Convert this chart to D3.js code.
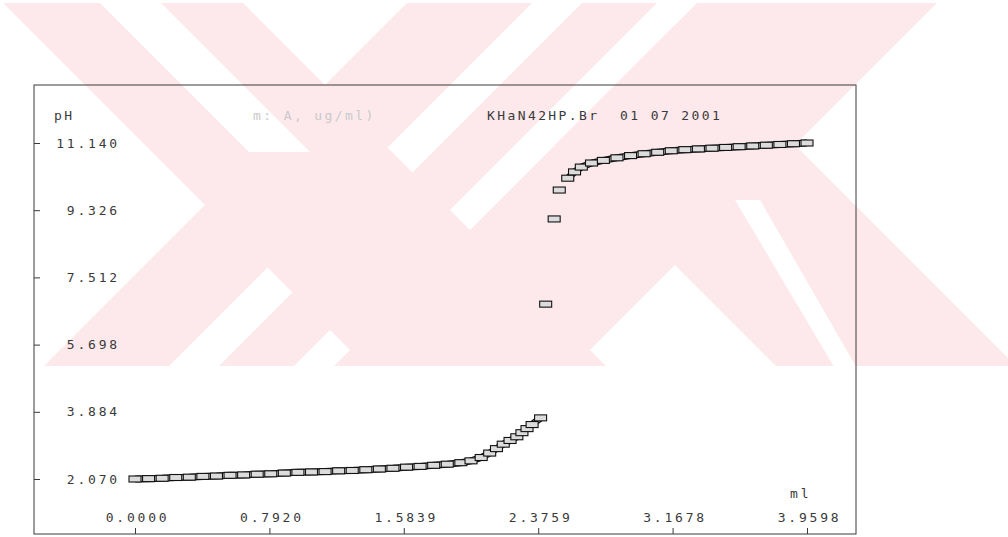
<!DOCTYPE html>
<html>
<head>
<meta charset="utf-8">
<script src="https://cdn.jsdelivr.net/npm/d3@7"></script>
<style>
  html, body { margin: 0; padding: 0; background: #fff; }
  svg { display: block; }
</style>
</head>
<body>
<svg id="chart" width="1008" height="537"></svg>
<script>
// Potentiometric titration curve: pH against added titrant volume (ml)

// acidic branch, before the equivalence point
const lowVolume = [
  0.00, 0.08, 0.16, 0.24, 0.32, 0.40, 0.48, 0.56, 0.64, 0.72,
  0.80, 0.88, 0.96, 1.04, 1.12, 1.20, 1.28, 1.36, 1.44, 1.52,
  1.60, 1.68, 1.76, 1.84, 1.92, 1.98, 2.04, 2.09, 2.13, 2.17,
  2.21, 2.25, 2.28, 2.31, 2.34, 2.39
];
const lowPH = [
  2.07, 2.08, 2.09, 2.11, 2.12, 2.14, 2.15, 2.17, 2.18, 2.20,
  2.21, 2.23, 2.25, 2.26, 2.27, 2.29, 2.30, 2.32, 2.34, 2.36,
  2.39, 2.41, 2.44, 2.47, 2.51, 2.56, 2.65, 2.77, 2.89, 3.01,
  3.11, 3.21, 3.32, 3.43, 3.54, 3.72
];
// readings across the jump
const jumpVolume = [2.42, 2.47, 2.50];
const jumpPH = [6.79, 9.09, 9.87];
// basic branch, after the equivalence point
const highVolume = [
  2.55, 2.59, 2.63, 2.69, 2.76, 2.84, 2.92, 3.00, 3.08, 3.16,
  3.24, 3.32, 3.40, 3.48, 3.56, 3.64, 3.72, 3.80, 3.88, 3.9598
];
const highPH = [
  10.19, 10.36, 10.49, 10.60, 10.67, 10.74, 10.80, 10.85, 10.89, 10.93,
  10.96, 10.98, 11.00, 11.02, 11.04, 11.06, 11.08, 11.10, 11.12, 11.14
];

const yTickValues = [2.070, 3.884, 5.698, 7.512, 9.326, 11.140];
const yTickLabels = ["2.070", "3.884", "5.698", "7.512", "9.326", "11.140"];
const xTickValues = [0.0000, 0.7920, 1.5839, 2.3759, 3.1678, 3.9598];
const xTickLabels = ["0.0000", "0.7920", "1.5839", "2.3759", "3.1678", "3.9598"];

const headerLabels = [
  { text: "pH", x: 54, light: false },
  { text: "m:  A,  ug/ml)", x: 253, light: true },
  { text: "KHaN42HP.Br", x: 487, light: false },
  { text: "01 07 2001", x: 620, light: false }
];

const W = 1008, H = 537;
const frame = { left: 34, top: 85, right: 856, bottom: 534 };
const FONT = "'DejaVu Sans Mono', 'Liberation Mono', monospace";
const INK = "#3a3a3a";

const svg = d3.select("#chart");
const defs = svg.append("defs");

// ---- background seal: light pink diagonal strokes ----
defs.append("clipPath").attr("id", "sealClip")
  .append("rect").attr("x", 0).attr("y", 3).attr("width", W).attr("height", 363);

// strip where a <= x + y <= b  (rising stroke)
function rising(a, b, y0, y1) {
  return [[a - y0, y0], [b - y0, y0], [b - y1, y1], [a - y1, y1]];
}
// strip where a <= x - y <= b  (falling stroke)
function falling(a, b, y0, y1) {
  return [[a + y0, y0], [b + y0, y0], [b + y1, y1], [a + y1, y1]];
}
const sealPink = [
  falling(0, 240, 0, 370),                 // left cross, falling stroke
  rising(410, 535, 0, 370),                // left cross, rising stroke
  rising(585, 660, 0, 370),                // right shape, rising stroke (inner part)
  rising(700, 940, 0, 370),                // right shape, rising stroke (outer part)
  [[555, 145], [675, 25], [1020, 370], [780, 370]]   // right shape, lower leg
];
const sealGaps = [
  falling(97, 158, 0, 152),
  [[735, 200], [760, 200], [858, 370], [836, 370]]
];
const seal = svg.append("g").attr("clip-path", "url(#sealClip)");
const poly = d3.line();
seal.selectAll("path.pink").data(sealPink).join("path")
  .attr("class", "pink").attr("d", d => poly(d) + "Z").attr("fill", "#fde9ec");
seal.selectAll("path.gap").data(sealGaps).join("path")
  .attr("class", "gap").attr("d", d => poly(d) + "Z").attr("fill", "#ffffff");

// ---- scales ----
const x = d3.scaleLinear()
  .domain([xTickValues[0], xTickValues[xTickValues.length - 1]])
  .range([135, 807]);
const y = d3.scaleLinear()
  .domain([yTickValues[0], yTickValues[yTickValues.length - 1]])
  .range([479, 143]);

// ---- frame ----
svg.append("rect")
  .attr("x", frame.left).attr("y", frame.top)
  .attr("width", frame.right - frame.left).attr("height", frame.bottom - frame.top)
  .attr("fill", "none").attr("stroke", INK).attr("stroke-width", 1);

// ---- y axis (ticks on the left frame, labels inside) ----
const gy = svg.append("g")
  .attr("transform", `translate(${frame.left},0)`)
  .call(d3.axisRight(y).tickValues(yTickValues).tickSize(6)
    .tickFormat((d, i) => yTickLabels[i]));
gy.select(".domain").remove();
gy.attr("font-family", FONT).attr("font-size", 13);
gy.selectAll(".tick line").attr("stroke", INK);
gy.selectAll(".tick text")
  .attr("x", 86).attr("text-anchor", "end")
  .attr("fill", INK).style("letter-spacing", "2.8px");

// ---- x axis (ticks on the bottom frame) ----
const gx = svg.append("g")
  .attr("transform", `translate(0,${frame.bottom})`)
  .call(d3.axisTop(x).tickValues(xTickValues).tickSize(6)
    .tickFormat((d, i) => xTickLabels[i]));
gx.select(".domain").remove();
gx.attr("font-family", FONT).attr("font-size", 13);
gx.selectAll(".tick line").attr("stroke", INK);
gx.selectAll(".tick text")
  .attr("x", 2).attr("y", -12).attr("dy", "0em")
  .attr("fill", INK).style("letter-spacing", "2.8px");

// ---- header and unit labels ----
svg.append("g").selectAll("text").data(headerLabels).join("text")
  .attr("x", d => d.x).attr("y", 120)
  .attr("font-family", FONT).attr("font-size", 13)
  .style("letter-spacing", "2.4px")
  .attr("fill", d => d.light ? "#c9c9c9" : INK)
  .text(d => d.text);

svg.append("text")
  .attr("x", 790).attr("y", 498)
  .attr("font-family", FONT).attr("font-size", 13)
  .style("letter-spacing", "2.8px").attr("fill", INK)
  .text("ml");

// ---- measured series ----
const zip = (vs, ps) => vs.map((v, i) => ({ v, p: ps[i] }));
const lowPts = zip(lowVolume, lowPH);
const jumpPts = zip(jumpVolume, jumpPH);
const highPts = zip(highVolume, highPH);

const curve = d3.line().x(d => x(d.v)).y(d => y(d.p));
const bands = svg.append("g").attr("fill", "none")
  .attr("stroke-linejoin", "miter").attr("stroke-linecap", "butt");
[lowPts, highPts].forEach(seg => {
  bands.append("path").attr("d", curve(seg))
    .attr("stroke", "#111").attr("stroke-width", 7);
  bands.append("path").attr("d", curve(seg))
    .attr("stroke", "#e9e9e9").attr("stroke-width", 4.4);
});

// plotter boxes at every reading
svg.append("g").selectAll("rect").data(lowPts.concat(jumpPts, highPts)).join("rect")
  .attr("x", d => x(d.v) - 6).attr("y", d => y(d.p) - 3)
  .attr("width", 12).attr("height", 6)
  .attr("fill", "#dcdcdc").attr("stroke", "#111").attr("stroke-width", 1.1);
</script>
</body>
</html>
